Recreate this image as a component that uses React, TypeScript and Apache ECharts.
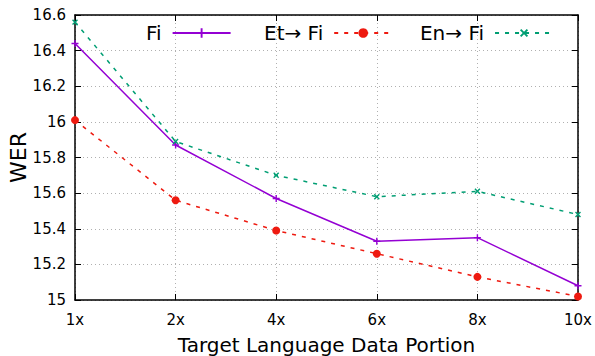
import React, { useEffect, useRef } from "react";
import * as echarts from "echarts";

const categories = ["1x", "2x", "4x", "6x", "8x", "10x"];
const fiValues = [16.44, 15.87, 15.57, 15.33, 15.35, 15.08];
const etFiValues = [16.01, 15.56, 15.39, 15.26, 15.13, 15.02];
const enFiValues = [16.56, 15.89, 15.7, 15.58, 15.61, 15.48];
const seriesNames = ["Fi", "Et\u2192 Fi", "En\u2192 Fi"];
const legendLefts = [146, 264, 420];

const FONT = "DejaVu Sans";
const plusPath = "path://M4,0h2v4h4v2h-4v4h-2v-4h-4v-2h4z";

export default function App() {
  const ref = useRef<HTMLDivElement>(null);
  useEffect(() => {
    if (!ref.current) return;
    const chart = echarts.init(ref.current, undefined, { renderer: "svg" });
    const grid = { left: 75, right: 17, top: 15, bottom: 56, outerBoundsMode: "none" };
    const tickStyle = { show: true, inside: true, length: 6, lineStyle: { color: "#000", width: 1 } };
    const axisLine = { show: true, lineStyle: { color: "#000", width: 1.5 } };
    const split = { show: true, lineStyle: { color: "#b0b0b0", type: [1, 3] as any, width: 1 } };
    chart.setOption({
      animation: false,
      backgroundColor: "#fff",
      textStyle: { fontFamily: FONT },
      grid,
      legend: seriesNames.map((name, i) => ({
        top: 23,
        left: legendLefts[i],
        padding: 0,
        align: "right",
        itemWidth: 58,
        itemHeight: 12,
        textStyle: { fontFamily: FONT, fontSize: 20, color: "#000", padding: [0, 6, 0, 0] },
        data: [name],
      })),
      xAxis: [
        {
          type: "category",
          data: categories,
          boundaryGap: false,
          axisLine,
          axisTick: { ...tickStyle, alignWithLabel: true },
          axisLabel: { color: "#000", fontSize: 15, fontFamily: FONT, margin: 12 },
          splitLine: split,
          name: "Target Language Data Portion",
          nameLocation: "middle",
          nameGap: 35,
          nameTextStyle: { color: "#000", fontSize: 20, fontFamily: FONT },
        },
        {
          type: "category",
          data: categories,
          boundaryGap: false,
          position: "top",
          axisLine,
          axisTick: tickStyle,
          axisLabel: { show: false },
          splitLine: { show: false },
        },
      ],
      yAxis: [
        {
          type: "value",
          min: 15,
          max: 16.6,
          interval: 0.2,
          axisLine,
          axisTick: tickStyle,
          axisLabel: { color: "#000", fontSize: 15, fontFamily: FONT, margin: 9 },
          splitLine: split,
          name: "WER",
          nameLocation: "middle",
          nameGap: 46,
          nameMoveOverlap: false,
          nameTextStyle: { color: "#000", fontSize: 22, fontFamily: FONT },
        },
        {
          type: "value",
          min: 15,
          max: 16.6,
          interval: 0.2,
          position: "right",
          axisLine,
          axisTick: tickStyle,
          axisLabel: { show: false },
          splitLine: { show: false },
        },
      ],
      series: [
        {
          name: seriesNames[0],
          type: "line",
          data: fiValues,
          symbol: plusPath,
          symbolSize: 7,
          itemStyle: { color: "#9400d3" },
          lineStyle: { color: "#9400d3", width: 1.5, type: "solid" },
        },
        {
          name: seriesNames[1],
          type: "line",
          data: etFiValues,
          symbol: "circle",
          symbolSize: 8,
          itemStyle: { color: "#ee1a10" },
          lineStyle: { color: "#ee1a10", width: 1.5, type: [4, 6] },
        },
        {
          name: seriesNames[2],
          type: "line",
          data: enFiValues,
          symbol: plusPath,
          symbolRotate: 45,
          symbolSize: 7,
          itemStyle: { color: "#009e73" },
          lineStyle: { color: "#009e73", width: 1.5, type: [4, 6] },
        },
      ],
    });
    return () => chart.dispose();
  }, []);
  return <div ref={ref} style={{ width: 595, height: 356, position: "absolute", left: 0, top: 0 }} />;
}
